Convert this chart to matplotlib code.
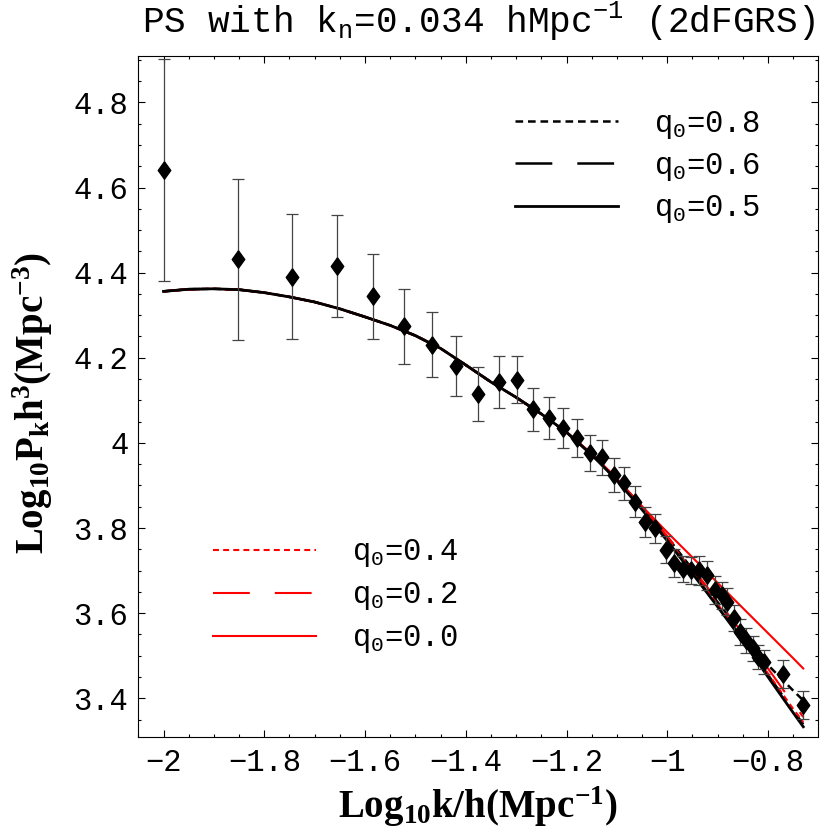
import matplotlib
matplotlib.use('Agg')
import matplotlib.pyplot as plt
from matplotlib.ticker import MultipleLocator, FuncFormatter

# measured power spectrum (2dFGRS): log10 k/h, log10 P, error
k_obs = [-2.000, -1.853, -1.744, -1.656, -1.584, -1.522, -1.468, -1.419, -1.375, -1.335,
         -1.299, -1.267, -1.235, -1.206, -1.179, -1.153, -1.129, -1.106, -1.085, -1.064,
         -1.044, -1.025, -1.003, -0.986, -0.969, -0.952, -0.936, -0.922, -0.905, -0.892,
         -0.881, -0.867, -0.856, -0.844, -0.830, -0.819, -0.808, -0.770, -0.731]
p_obs = [4.641, 4.431, 4.390, 4.415, 4.344, 4.274, 4.231, 4.181, 4.115, 4.143,
         4.148, 4.079, 4.058, 4.035, 4.012, 3.977, 3.966, 3.925, 3.905, 3.862,
         3.815, 3.799, 3.749, 3.717, 3.703, 3.701, 3.701, 3.689, 3.654, 3.642,
         3.627, 3.588, 3.556, 3.536, 3.517, 3.497, 3.485, 3.456, 3.385]
p_err = [0.260, 0.190, 0.147, 0.120, 0.100, 0.088, 0.077, 0.070, 0.064, 0.060,
         0.055, 0.051, 0.049, 0.046, 0.044, 0.042, 0.041, 0.040, 0.039, 0.036,
         0.035, 0.034, 0.032, 0.033, 0.031, 0.032, 0.034, 0.034, 0.033, 0.032,
         0.032, 0.030, 0.030, 0.030, 0.030, 0.029, 0.029, 0.033, 0.033]

# model curves, all q0 agree at large scales
k_mod = [-2.00, -1.95, -1.90, -1.85, -1.80, -1.75, -1.70, -1.65, -1.60, -1.55,
         -1.50, -1.45, -1.40, -1.35, -1.30, -1.25, -1.20, -1.15, -1.10, -1.05,
         -1.00, -0.95, -0.90, -0.85, -0.80, -0.75, -0.73]
p_head = [4.356, 4.361, 4.362, 4.360, 4.353, 4.343, 4.331, 4.315, 4.296, 4.276,
          4.252, 4.222, 4.183, 4.143, 4.107, 4.068, 4.025]
tail_q08 = [3.973, 3.915, 3.849, 3.779, 3.703, 3.626, 3.550, 3.478, 3.418, 3.395]
tail_q06 = [3.972, 3.913, 3.845, 3.773, 3.696, 3.618, 3.539, 3.455, 3.371, 3.339]
tail_q05 = [3.972, 3.912, 3.843, 3.770, 3.693, 3.615, 3.535, 3.450, 3.366, 3.333]
tail_q04 = [3.973, 3.914, 3.847, 3.775, 3.699, 3.621, 3.542, 3.458, 3.375, 3.344]
tail_q02 = [3.974, 3.916, 3.850, 3.781, 3.706, 3.629, 3.552, 3.470, 3.387, 3.356]
tail_q00 = [3.975, 3.916, 3.851, 3.790, 3.731, 3.671, 3.612, 3.553, 3.494, 3.470]

plt.rcParams['font.family'] = ['Liberation Mono', 'DejaVu Sans']
plt.rcParams['mathtext.fontset'] = 'custom'
plt.rcParams['mathtext.rm'] = 'Liberation Mono'
plt.rcParams['mathtext.it'] = 'Liberation Mono:italic'
plt.rcParams['mathtext.bf'] = 'Liberation Serif:bold'
plt.rcParams['lines.scale_dashes'] = False

fig = plt.figure(figsize=(8.32, 8.32), dpi=100)
ax = fig.add_axes([0.1659, 0.1142, 0.8173, 0.8185])

short_b = (0, (5.5, 3.5))
short_r = (0, (4.3, 3.0))
long_d = (0, (26.5, 18))

l08, = ax.plot(k_mod, p_head + tail_q08, color='black', lw=1.8, ls=short_b, label=r'q$_\mathrm{0}$=0.8')
l06, = ax.plot(k_mod, p_head + tail_q06, color='black', lw=1.8, ls=long_d, label=r'q$_\mathrm{0}$=0.6')
l04, = ax.plot(k_mod, p_head + tail_q04, color='red', lw=1.5, ls=short_r, label=r'q$_\mathrm{0}$=0.4')
l02, = ax.plot(k_mod, p_head + tail_q02, color='red', lw=1.5, ls=long_d, label=r'q$_\mathrm{0}$=0.2')
l00, = ax.plot(k_mod, p_head + tail_q00, color='red', lw=1.5, ls='-', label=r'q$_\mathrm{0}$=0.0')
l05, = ax.plot(k_mod, p_head + tail_q05, color='black', lw=2.0, ls='-', label=r'q$_\mathrm{0}$=0.5')

diamond = [(0, 1), (0.72, 0), (0, -1), (-0.72, 0), (0, 1)]
ax.errorbar(k_obs, p_obs, yerr=p_err, fmt='none', ecolor='#444444',
            elinewidth=0.9, capsize=4.5, capthick=0.9, zorder=3)
ax.plot(k_obs, p_obs, ls='none', marker=diamond, ms=12.5, color='black', zorder=4)

ax.set_xlim(-2.0506, -0.7007)
ax.set_ylim(3.309, 4.909)

ax.xaxis.set_major_locator(MultipleLocator(0.2))
ax.xaxis.set_minor_locator(MultipleLocator(0.05))
ax.yaxis.set_major_locator(MultipleLocator(0.2))
ax.yaxis.set_minor_locator(MultipleLocator(0.05))
fmt = FuncFormatter(lambda v, p: ('%g' % round(v, 3)).replace('-', '\u2212'))
ax.xaxis.set_major_formatter(fmt)
ax.yaxis.set_major_formatter(fmt)
ax.tick_params(which='both', direction='in', top=True, right=True, width=0.8, labelsize=22)
ax.tick_params(which='major', length=5)
ax.tick_params(which='minor', length=2.5)
ax.tick_params(axis='y', pad=7)
ax.tick_params(axis='x', pad=8)

ax.set_title(r'PS with k$_\mathrm{n}$=0.034 hMpc$^{\mathrm{-1}}$ (2dFGRS)', fontsize=26, pad=17)
ax.set_xlabel(r'$\mathbf{Log_{10}k/h(Mpc^{-1})}$', fontsize=28)
ax.set_ylabel(r'$\mathbf{Log_{10}P_kh^3(Mpc^{-3})}$', fontsize=28)
ax.xaxis.set_label_coords(0.5, -0.07)
ax.yaxis.set_label_coords(-0.122, 0.49)

leg1 = ax.legend(handles=[l08, l06, l05], loc='upper left', bbox_to_anchor=(0.554, 0.922),
                 frameon=False, fontsize=22, handlelength=3.37, handletextpad=1.2,
                 labelspacing=0.33, borderpad=0, borderaxespad=0)
ax.add_artist(leg1)
ax.legend(handles=[l04, l02, l00], loc='upper left', bbox_to_anchor=(0.110, 0.293),
          frameon=False, fontsize=22, handlelength=3.37, handletextpad=1.2,
          labelspacing=0.36, borderpad=0, borderaxespad=0)

fig.savefig('out.png', dpi=100)
